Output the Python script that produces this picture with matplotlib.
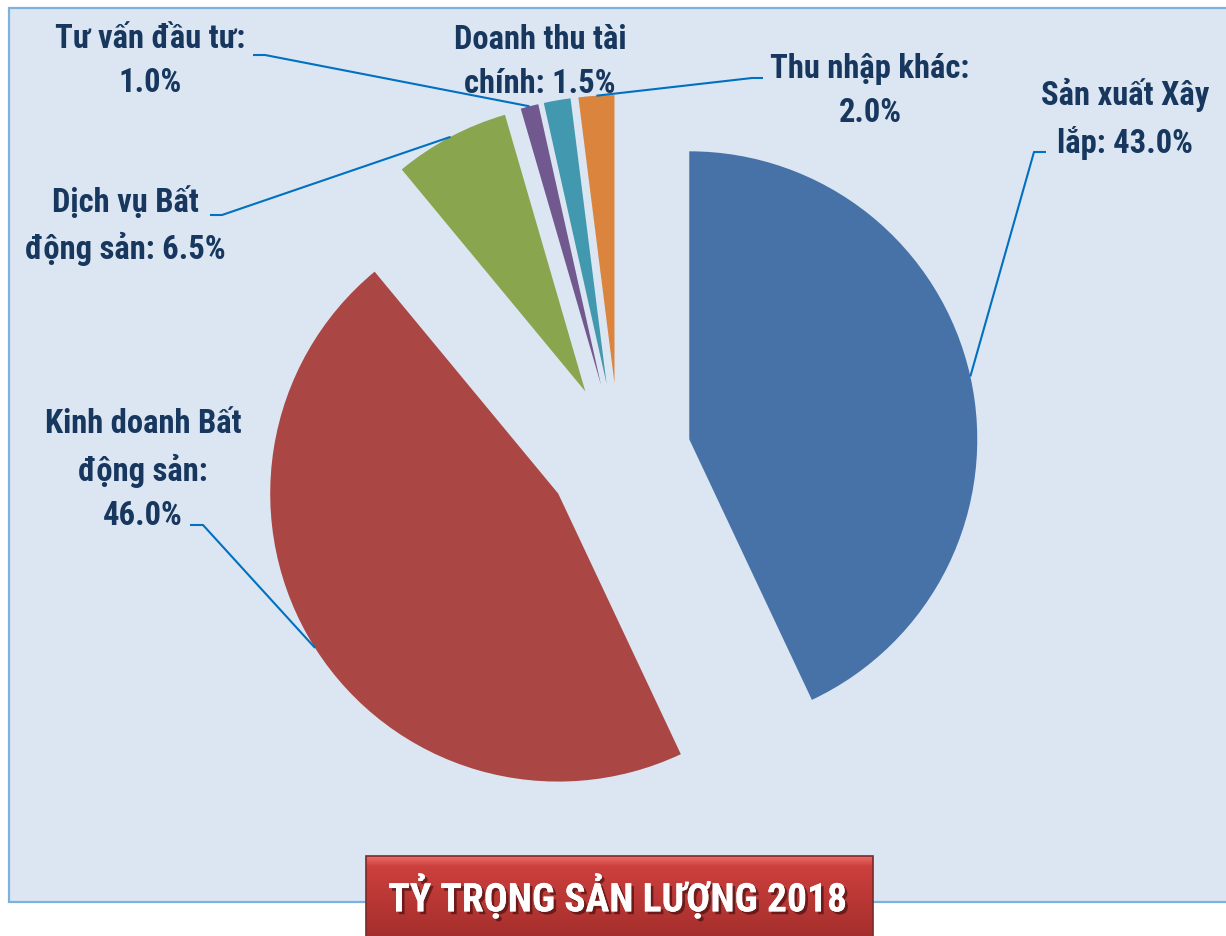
import matplotlib
matplotlib.use('Agg')
import matplotlib.pyplot as plt
import numpy as np
from matplotlib.patches import Rectangle
import matplotlib.patheffects as pe

# ---- data ----
categories = ['Sản xuất Xây lắp', 'Kinh doanh Bất động sản', 'Dịch vụ Bất động sản',
              'Tư vấn đầu tư', 'Doanh thu tài chính', 'Thu nhập khác']
shares = [43.0, 46.0, 6.5, 1.0, 1.5, 2.0]
colors = ['#4672A8', '#AA4643', '#89A54E', '#71588F', '#4198AF', '#DB843D']
label_texts = ['Sản xuất Xây\nlắp: 43.0%', 'Kinh doanh Bất\nđộng sản:\n46.0%',
               'Dịch vụ Bất\nđộng sản: 6.5%', 'Tư vấn đầu tư:\n1.0%',
               'Doanh thu tài\nchính: 1.5%', 'Thu nhập khác:\n2.0%']
title = 'TỶ TRỌNG SẢN LƯỢNG 2018'

# ---- layout (pixels, y measured from top) ----
W, H = 1226, 937
RADIUS = 288
label_pos = [(1125, 119), (143, 470), (125, 226), (150, 61), (540, 62), (870, 91)]
elbows = [((1034, 153), (1046, 153)), ((203, 526), (190, 526)), ((222, 216), (210, 216)),
          ((265, 56), (253, 56)), None, ((752, 79), (763, 79))]

FONT = ['Roboto Condensed', 'IBM Plex Sans Condensed', 'Open Sans Condensed', 'DejaVu Sans']
TXT = '#17375E'
LINE = '#0070C0'

def Y(y):
    return H - y

fig = plt.figure(figsize=(W / 100, H / 100), dpi=100)
fig.patch.set_facecolor('white')
ax = fig.add_axes([0, 0, 1, 1])

# plot area background
ax.add_patch(Rectangle((9, Y(903)), 1300, 894, facecolor='#DCE6F2',
                       edgecolor='#7EB1DE', linewidth=1.6, zorder=0))

wedges, _ = ax.pie(shares, colors=colors, startangle=90, counterclock=False,
                   explode=[0.25 * RADIUS] * len(shares), center=(619, Y(456)),
                   radius=RADIUS, frame=True, wedgeprops=dict(linewidth=0))
for w in wedges:
    w.set_zorder(2)

ax.set_xlim(0, W)
ax.set_ylim(0, H)
ax.set_aspect('auto')
ax.axis('off')

for i, (w, txt) in enumerate(zip(wedges, label_texts)):
    lx, ly = label_pos[i]
    ax.text(lx, Y(ly), txt, ha='center', va='center', color=TXT, fontsize=23.5,
            fontweight='bold', family=FONT, linespacing=1.5, zorder=5)
    if elbows[i] is not None:
        mid = np.deg2rad((w.theta1 + w.theta2) / 2)
        cx, cy = w.center
        px, py = cx + w.r * np.cos(mid), cy + w.r * np.sin(mid)
        (ex, ey), (tx, ty) = elbows[i]
        ax.plot([px, ex, tx], [py, Y(ey), Y(ty)], color=LINE, lw=1.5, zorder=4,
                solid_capstyle='butt')

# title box with gradient
top = np.array([0.92, 0.42, 0.40])
midc = np.array([0.80, 0.25, 0.24])
bot = np.array([0.64, 0.18, 0.17])
img = np.zeros((100, 1, 3))
for k in range(100):
    t = k / 99
    if t < 0.12:
        img[k, 0] = top + (midc - top) * (t / 0.12)
    else:
        img[k, 0] = midc + (bot - midc) * ((t - 0.12) / 0.88)
ax.imshow(img, extent=(366, 873, Y(940), Y(857)), aspect='auto', zorder=6,
          origin='upper', interpolation='bilinear')
ax.add_patch(Rectangle((366, Y(940)), 507, 83, facecolor='none',
                       edgecolor='#7A2A28', linewidth=1.2, zorder=7))
ax.text(618, Y(897), title, ha='center', va='center', color='white', fontsize=28.5,
        fontweight='bold', family=FONT, zorder=8,
        path_effects=[pe.withSimplePatchShadow(offset=(2, -2), shadow_rgbFace='#3a0a0a', alpha=0.6),
                      pe.Normal()])
ax.set_xlim(0, W)
ax.set_ylim(0, H)

fig.savefig('out.png', dpi=100, facecolor='white')
